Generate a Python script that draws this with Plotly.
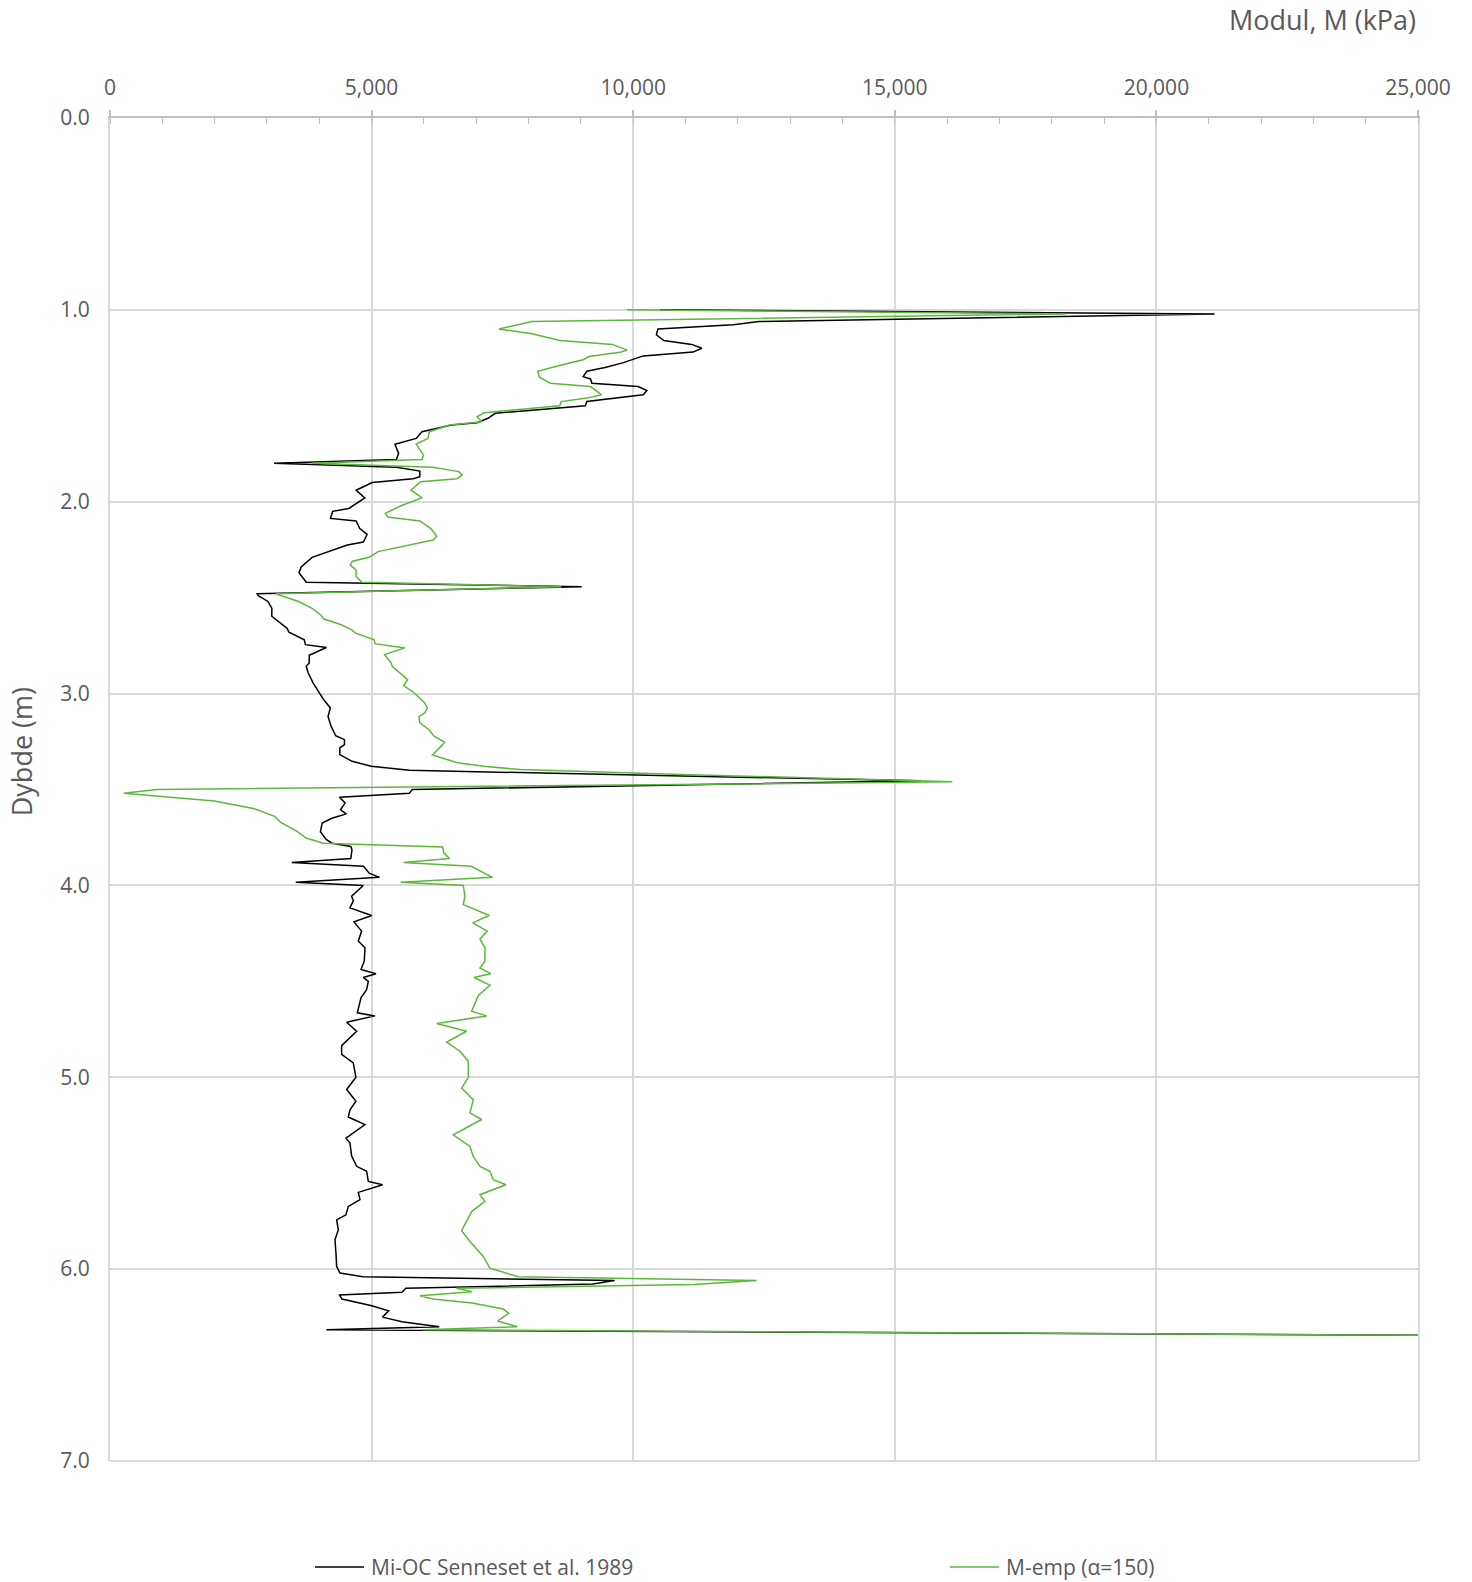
import plotly.graph_objects as go

# Mi-OC (Senneset et al. 1989): depth (m) and constrained modulus (kPa)
depth_mi = [
    1.000, 1.021, 1.061, 1.078, 1.100, 1.130, 1.160, 1.180, 1.200, 1.220,
    1.240, 1.275, 1.300, 1.320, 1.348, 1.360, 1.383, 1.400, 1.420, 1.443,
    1.478, 1.500, 1.539, 1.565, 1.588, 1.600, 1.635, 1.670, 1.700, 1.748,
    1.780, 1.800, 1.820, 1.840, 1.870, 1.880, 1.900, 1.940, 1.980, 2.035,
    2.050, 2.087, 2.100, 2.140, 2.170, 2.210, 2.226, 2.290, 2.340, 2.370,
    2.420, 2.443, 2.480, 2.490, 2.520, 2.556, 2.597, 2.630, 2.660, 2.680,
    2.720, 2.745, 2.760, 2.800, 2.840, 2.858, 2.890, 2.944, 2.990, 3.030,
    3.075, 3.120, 3.170, 3.220, 3.240, 3.266, 3.283, 3.318, 3.353, 3.379,
    3.400, 3.455, 3.500, 3.520, 3.540, 3.570, 3.606, 3.627, 3.650, 3.675,
    3.720, 3.760, 3.780, 3.797, 3.814, 3.860, 3.880, 3.900, 3.936, 3.958,
    3.983, 4.000, 4.056, 4.080, 4.117, 4.157, 4.190, 4.238, 4.290, 4.325,
    4.395, 4.438, 4.460, 4.480, 4.500, 4.543, 4.586, 4.664, 4.680, 4.713,
    4.760, 4.835, 4.880, 4.925, 5.000, 5.064, 5.125, 5.170, 5.207, 5.247,
    5.317, 5.343, 5.410, 5.464, 5.490, 5.543, 5.560, 5.600, 5.638, 5.673,
    5.717, 5.743, 5.795, 5.847, 5.917, 5.986, 6.020, 6.040, 6.059, 6.078,
    6.100, 6.120, 6.135, 6.156, 6.190, 6.217, 6.250, 6.274, 6.300, 6.316,
    6.345,
]
modul_mi = [
    10514, 21112, 12404, 11914, 10472, 10444, 10584, 11116, 11312, 11144,
    10192, 9814, 9464, 9114, 9044, 9184, 9212, 10094, 10262, 10192,
    9114, 9086, 7364, 7224, 7014, 6524, 5964, 5852, 5446, 5516,
    5474, 3136, 5474, 5922, 5922, 5796, 5012, 4704, 4872, 4564,
    4256, 4214, 4704, 4774, 4914, 4844, 4536, 3864, 3654, 3612,
    3752, 9016, 2814, 2836, 3019, 3094, 3092, 3238, 3384, 3421,
    3713, 3735, 4137, 3808, 3808, 3750, 3786, 3881, 3984, 4079,
    4211, 4167, 4225, 4313, 4481, 4481, 4393, 4393, 4627, 4993,
    5724, 15500, 5776, 5721, 4384, 4494, 4406, 4516, 4242, 4055,
    4022, 4132, 4242, 4603, 4625, 4603, 3474, 4844, 4954, 5151,
    3551, 4841, 4618, 4650, 4587, 5001, 4663, 4809, 4746, 4873,
    4860, 4797, 5083, 4841, 4937, 4905, 4797, 4727, 5064, 4523,
    4714, 4427, 4427, 4650, 4701, 4523, 4701, 4587, 4555, 4873,
    4510, 4587, 4618, 4714, 4905, 4937, 5211, 4746, 4778, 4555,
    4510, 4332, 4364, 4300, 4319, 4332, 4395, 4835, 9646, 9229,
    5654, 5580, 4388, 4433, 4984, 5326, 5207, 5580, 6294, 4135,
    25000,
]

# M-emp (alpha = 150): depth (m) and constrained modulus (kPa)
depth_emp = [
    1.000, 1.021, 1.061, 1.100, 1.125, 1.160, 1.180, 1.210, 1.220, 1.243,
    1.260, 1.287, 1.320, 1.350, 1.383, 1.400, 1.443, 1.460, 1.478, 1.500,
    1.536, 1.557, 1.583, 1.600, 1.635, 1.670, 1.700, 1.757, 1.780, 1.800,
    1.820, 1.843, 1.860, 1.880, 1.896, 1.940, 1.980, 2.020, 2.060, 2.080,
    2.100, 2.140, 2.180, 2.200, 2.260, 2.290, 2.310, 2.330, 2.357, 2.390,
    2.420, 2.443, 2.480, 2.520, 2.556, 2.590, 2.610, 2.640, 2.667, 2.684,
    2.720, 2.740, 2.762, 2.797, 2.840, 2.858, 2.927, 2.958, 2.993, 3.049,
    3.075, 3.100, 3.120, 3.153, 3.190, 3.220, 3.254, 3.270, 3.320, 3.360,
    3.380, 3.396, 3.420, 3.460, 3.500, 3.520, 3.560, 3.600, 3.640, 3.670,
    3.720, 3.753, 3.780, 3.800, 3.830, 3.860, 3.880, 3.900, 3.958, 3.983,
    4.000, 4.056, 4.100, 4.157, 4.195, 4.238, 4.280, 4.325, 4.395, 4.430,
    4.460, 4.480, 4.520, 4.574, 4.656, 4.680, 4.720, 4.760, 4.817, 4.864,
    4.917, 5.000, 5.056, 5.117, 5.186, 5.220, 5.300, 5.360, 5.412, 5.464,
    5.490, 5.534, 5.560, 5.612, 5.647, 5.700, 5.750, 5.800, 5.856, 5.934,
    5.995, 6.040, 6.059, 6.080, 6.100, 6.118, 6.139, 6.156, 6.177, 6.208,
    6.230, 6.270, 6.300, 6.316, 6.345,
]
modul_emp = [
    9884, 18256, 8064, 7434, 8064, 8596, 9604, 9884, 9772, 9156,
    9044, 8624, 8176, 8204, 8414, 9184, 9394, 9114, 8624, 8596,
    7154, 7014, 7112, 6496, 6104, 6076, 5852, 5992, 5964, 3864,
    6174, 6664, 6734, 6636, 5936, 5754, 5964, 5572, 5264, 5306,
    5922, 6132, 6244, 6174, 5124, 4956, 4634, 4592, 4704, 4704,
    4816, 8624, 3164, 3604, 3864, 4028, 4079, 4408, 4613, 4686,
    5051, 5065, 5636, 5249, 5373, 5395, 5687, 5614, 5797, 6016,
    6067, 6016, 5906, 5921, 6104, 6184, 6396, 6345, 6162, 6637,
    7186, 7844, 10762, 16100, 899, 263, 1995, 2762, 3146, 3256,
    3584, 3748, 4077, 6357, 6379, 6489, 5612, 6905, 7310, 5557,
    6752, 6784, 6752, 7249, 6931, 7211, 7071, 7166, 7166, 7071,
    7275, 6956, 7262, 7039, 6912, 7198, 6243, 6816, 6434, 6689,
    6848, 6848, 6720, 6943, 6880, 7102, 6561, 6880, 6943, 7071,
    7262, 7326, 7568, 7071, 7166, 6912, 6816, 6720, 6880, 7135,
    7262, 7804, 12357, 11165, 6622, 6920, 5922, 6175, 6920, 7516,
    7620, 7412, 7784, 5982, 25000,
]

x_ticks = [0, 5000, 10000, 15000, 20000, 25000]
y_ticks = [0, 1, 2, 3, 4, 5, 6, 7]

TEXT = "#595959"
GRID = "#d9d9d9"
FONT = "Open Sans"

series = [
    dict(name="Mi-OC Senneset et al. 1989", x=modul_mi, y=depth_mi,
         color="#000000", key_x=0.1567),
    dict(name="M-emp (α=150)", x=modul_emp, y=depth_emp,
         color="#5cb83c", key_x=0.6422),
]

fig = go.Figure()
for s in series:
    fig.add_trace(go.Scatter(
        x=s["x"], y=s["y"], mode="lines", name=s["name"],
        line=dict(color=s["color"], width=1.5), showlegend=False,
    ))

# Bottom border of the plot area (the edge gridline is not drawn by the axis)
shapes = [dict(
    type="line", xref="paper", yref="paper", x0=0, x1=1, y0=0, y1=0,
    line=dict(color=GRID, width=2), layer="below",
)]

# Key below the plot: a short line sample followed by the series name
KEY_Y = -0.0789
KEY_LEN = 0.0375
annotations = []
for s in series:
    shapes.append(dict(
        type="line", xref="paper", yref="paper",
        x0=s["key_x"], x1=s["key_x"] + KEY_LEN, y0=KEY_Y, y1=KEY_Y,
        line=dict(color=s["color"], width=1.5),
    ))
    annotations.append(dict(
        text=s["name"], xref="paper", yref="paper",
        x=s["key_x"] + KEY_LEN + 0.004, y=KEY_Y,
        xanchor="left", yanchor="middle", showarrow=False,
        font=dict(family=FONT, size=21, color=TEXT),
    ))

annotations += [
    dict(text="Modul, M (kPa)", xref="paper", yref="paper",
         x=1.0, y=1.0737, xanchor="right", yanchor="middle",
         showarrow=False, font=dict(family=FONT, size=27, color=TEXT)),
    dict(text="Dybde (m)", xref="paper", yref="paper",
         x=-0.067, y=0.528, xanchor="center", yanchor="middle",
         textangle=-90, showarrow=False,
         font=dict(family=FONT, size=27, color=TEXT)),
]

fig.update_layout(
    width=1472, height=1582,
    margin=dict(l=110, r=54, t=118, b=121, pad=0),
    paper_bgcolor="white", plot_bgcolor="white",
    font=dict(family=FONT, size=21, color=TEXT),
    showlegend=False,
    xaxis=dict(
        side="top", range=[0, 25000], tickvals=x_ticks, tickformat=",",
        showgrid=True, gridcolor=GRID, gridwidth=1.5,
        showline=True, linecolor="#bfbfbf", linewidth=2,
        ticks="outside", ticklen=6, tickcolor="#bfbfbf", tickwidth=1.5,
        minor=dict(dtick=1000, ticks="inside", ticklen=6, tickcolor="#bfbfbf",
                   tickwidth=1.2, showgrid=False),
        zeroline=False, ticklabelstandoff=7,
        tickfont=dict(family=FONT, size=21, color=TEXT),
    ),
    yaxis=dict(
        range=[7, 0], tickvals=y_ticks, tickformat=".1f",
        showgrid=True, gridcolor=GRID, gridwidth=1.5,
        showline=True, mirror=True, linecolor=GRID, linewidth=2,
        ticks="", zeroline=False, ticklabelstandoff=14,
        tickfont=dict(family=FONT, size=21, color=TEXT),
    ),
    shapes=shapes,
    annotations=annotations,
)

fig.write_html("out.html")
